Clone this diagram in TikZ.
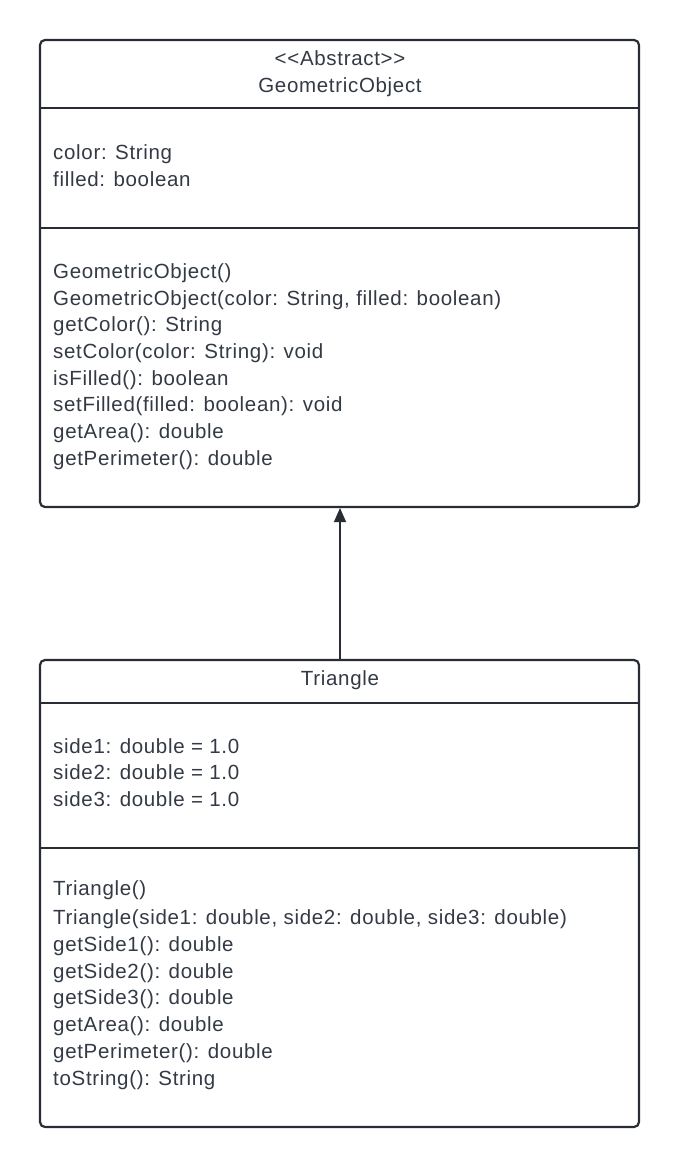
\documentclass[tikz,border=0pt]{standalone}
\usepackage{fontspec}
\setmainfont{Liberation Sans}[LetterSpace=3.3]
\usetikzlibrary{arrows.meta}
\definecolor{linec}{HTML}{282C34}
\definecolor{textc}{HTML}{333A45}
\begin{document}
\begin{tikzpicture}[x=1pt,y=-1pt,
  box/.style={draw=linec,line width=2.2pt,rounded corners=5pt},
  divider/.style={draw=linec,line width=2.2pt},
  txt/.style={anchor=base west,inner sep=0pt,text=textc,font=\fontsize{20.5}{24}\selectfont},
  ctxt/.style={anchor=base,inner sep=0pt,text=textc,font=\fontsize{20.5}{24}\selectfont},
  inherit/.style={draw=linec,line width=1.2pt,-{Triangle[length=14pt,width=12pt]}}]
\useasboundingbox (0,0) rectangle (680,1167);
\fill[white] (0,0) rectangle (680,1167);
% GeometricObject box
\draw[box] (40,40) rectangle (639,507);
\draw[divider] (40,108) -- (639,108);
\draw[divider] (40,228) -- (639,228);
\node[ctxt] (g1) at (340,65) {\textless{}\textless{}Abstract\textgreater{}\textgreater{}};
\node[ctxt] (g2) at (340,92) {GeometricObject};
\node[txt] (ga1) at (53,159) {color: String};
\node[txt] (ga2) at (53,186) {filled: boolean};
\node[txt] (gm1) at (53,278) {GeometricObject()};
\node[txt] (gm2) at (53,305) {GeometricObject(color: String, filled: boolean)};
\node[txt] (gm3) at (53,331.5) {getColor(): String};
\node[txt] (gm4) at (53,358) {setColor(color: String): void};
\node[txt] (gm5) at (53,385) {isFilled(): boolean};
\node[txt] (gm6) at (53,411.5) {setFilled(filled: boolean): void};
\node[txt] (gm7) at (53,438) {getArea(): double};
\node[txt] (gm8) at (53,465) {getPerimeter(): double};
\coordinate (gbot) at (340,508);
% Triangle box
\draw[box] (40,660) rectangle (639,1127);
\draw[divider] (40,703) -- (639,703);
\draw[divider] (40,848) -- (639,848);
\coordinate (ttop) at (340,659);
\node[ctxt] (t1) at (340,685) {Triangle};
\node[txt] (ta1) at (53,753) {side1: double = 1.0};
\node[txt] (ta2) at (53,779.5) {side2: double = 1.0};
\node[txt] (ta3) at (53,806) {side3: double = 1.0};
\node[txt] (tm1) at (53,895) {Triangle()};
\node[txt] (tm2) at (53,924) {Triangle(side1: double, side2: double, side3: double)};
\node[txt] (tm3) at (53,951) {getSide1(): double};
\node[txt] (tm4) at (53,978) {getSide2(): double};
\node[txt] (tm5) at (53,1004.5) {getSide3(): double};
\node[txt] (tm6) at (53,1031) {getArea(): double};
\node[txt] (tm7) at (53,1058) {getPerimeter(): double};
\node[txt] (tm8) at (53,1085) {toString(): String};
\draw[inherit] (ttop) -- (gbot);
\end{tikzpicture}
\end{document}
